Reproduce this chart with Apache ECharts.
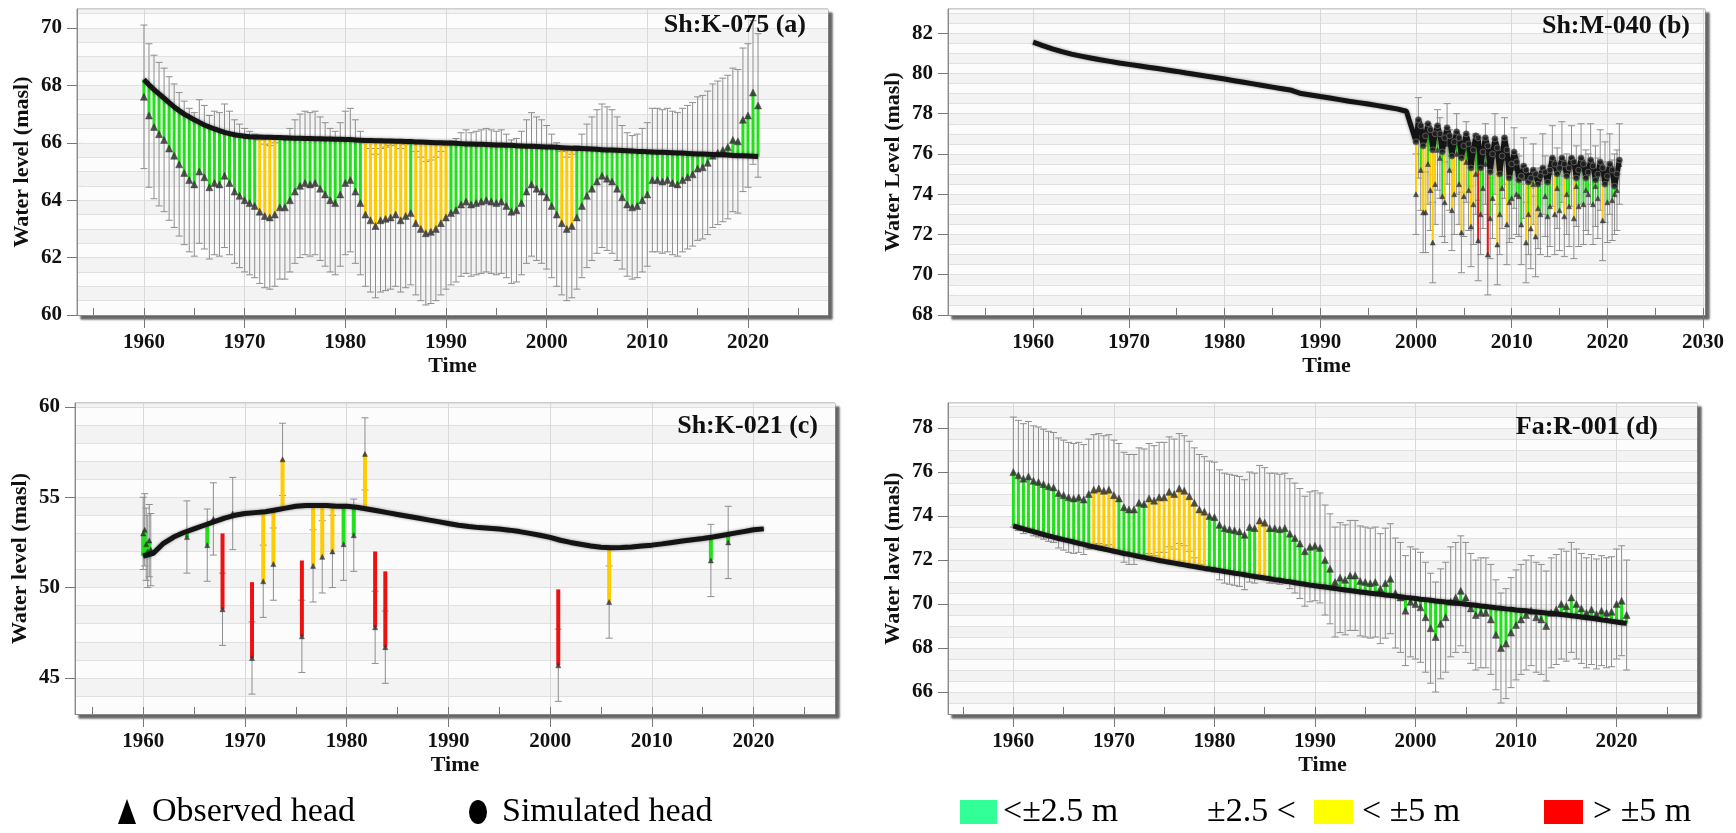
<!DOCTYPE html>
<html>
<head>
<meta charset="utf-8">
<script src="https://cdn.jsdelivr.net/npm/echarts@6/dist/echarts.min.js"></script>
<style>
html, body { margin: 0; padding: 0; background: #fff; }
#chart { width: 1736px; height: 833px; }
</style>
</head>
<body>
<div id="chart"></div>
<script>
// ---- tick labels ----
const xLabels = [1960, 1970, 1980, 1990, 2000, 2010, 2020];
const xLabelsB = [1960, 1970, 1980, 1990, 2000, 2010, 2020, 2030];
const xTicks5 = [1955, 1960, 1965, 1970, 1975, 1980, 1985, 1990, 1995, 2000, 2005, 2010, 2015, 2020, 2025];
const xTicks5B = [1955, 1960, 1965, 1970, 1975, 1980, 1985, 1990, 1995, 2000, 2005, 2010, 2015, 2020, 2025, 2030];
const yTicksA = [60, 62, 64, 66, 68, 70];
const yTicksB = [68, 70, 72, 74, 76, 78, 80, 82];
const yTicksC = [45, 50, 55, 60];
const yTicksD = [66, 68, 70, 72, 74, 76, 78];

// ---- (a) Sh:K-075, half-yearly from 1960 ----
const startA = 1960, stepA = 0.5, errA = 2.5;
const obsA = [
  67.6, 66.95, 66.55, 66.3, 66.1, 65.8, 65.55, 65.25, 64.95, 64.7,
  64.55, 65.0, 64.8, 64.45, 64.6, 64.55, 64.85, 64.6, 64.3, 64.15,
  64.0, 63.9, 63.8, 63.6, 63.45, 63.4, 63.5, 63.75, 63.75, 64.0,
  64.3, 64.5, 64.6, 64.55, 64.6, 64.4, 64.2, 64.0, 63.9, 64.2,
  64.6, 64.7, 64.3, 63.9, 63.5, 63.3, 63.1, 63.3, 63.35, 63.4,
  63.5, 63.3, 63.45, 63.55, 63.2, 63.0, 62.85, 62.9, 63.0, 63.2,
  63.4, 63.55, 63.65, 63.85, 63.95, 63.85, 63.9, 63.95, 64.0, 63.95,
  63.9, 63.95, 63.8, 63.6, 63.65, 63.9, 64.3, 64.55, 64.4, 64.3,
  64.1, 63.8, 63.5, 63.2, 63.0, 63.1, 63.4, 63.8, 64.15, 64.4,
  64.65, 64.85, 64.75, 64.65, 64.4, 64.1, 63.85, 63.75, 63.8, 64.0,
  64.2, 64.7, 64.7, 64.65, 64.7, 64.6, 64.55, 64.7, 64.8, 64.9,
  65.1, 65.15, 65.3, 65.55, 65.65, 65.75, 65.85, 66.1, 66.05, 66.8,
  66.95, 67.75, 67.3
];
const simA = [
  68.20, 68.02, 67.85, 67.70, 67.55, 67.40, 67.25, 67.12, 67.00, 66.90,
  66.80, 66.71, 66.62, 66.55, 66.48, 66.42, 66.36, 66.32, 66.28, 66.25,
  66.23, 66.21, 66.20, 66.20, 66.19, 66.19, 66.18, 66.18, 66.17, 66.17,
  66.16, 66.16, 66.15, 66.15, 66.14, 66.14, 66.13, 66.13, 66.12, 66.12,
  66.11, 66.11, 66.10, 66.09, 66.08, 66.08, 66.07, 66.07, 66.06, 66.06,
  66.05, 66.05, 66.04, 66.04, 66.03, 66.03, 66.02, 66.01, 66.00, 66.00,
  65.99, 65.99, 65.98, 65.97, 65.96, 65.96, 65.95, 65.95, 65.94, 65.93,
  65.92, 65.92, 65.91, 65.91, 65.90, 65.89, 65.88, 65.88, 65.87, 65.86,
  65.85, 65.85, 65.84, 65.83, 65.82, 65.81, 65.80, 65.80, 65.79, 65.78,
  65.77, 65.76, 65.75, 65.75, 65.74, 65.73, 65.72, 65.71, 65.70, 65.70,
  65.69, 65.68, 65.67, 65.67, 65.66, 65.65, 65.64, 65.64, 65.63, 65.62,
  65.61, 65.61, 65.60, 65.59, 65.58, 65.58, 65.57, 65.56, 65.55, 65.55,
  65.54, 65.53, 65.52
];

// ---- (b) Sh:M-040: yearly simulation 1960-1999, quarterly from 2000 ----
const startB1 = 1960, stepB1 = 1;
const simB1 = [
  81.55, 81.38, 81.22, 81.08, 80.96, 80.86, 80.77, 80.68, 80.60, 80.52,
  80.45, 80.38, 80.31, 80.24, 80.17, 80.10, 80.02, 79.95, 79.87, 79.80,
  79.72, 79.64, 79.56, 79.48, 79.40, 79.32, 79.24, 79.16, 79.00, 78.93,
  78.85, 78.78, 78.70, 78.62, 78.55, 78.48, 78.40, 78.32, 78.24, 78.12
];
const startB2 = 2000, stepB2 = 0.25, errB = 2;
const simB2 = [
  76.6, 77.7, 77.4, 76.4,   76.9, 77.5, 77.2, 76.2,   77.0, 77.4, 77.0, 76.1,
  76.8, 77.3, 76.9, 75.9,   76.6, 77.1, 76.8, 75.8,   76.4, 77.0, 76.5, 75.3,
  76.2, 76.9, 76.8, 75.3,   76.1, 76.8, 76.4, 75.1,   76.0, 76.75, 76.3, 75.0,
  75.9, 76.8, 76.2, 74.8,   75.5, 76.1, 75.6, 74.7,   74.9, 75.4, 75.2, 74.6,
  74.8, 75.2, 75.0, 74.5,   74.9, 75.3, 75.1, 74.6,   75.2, 75.8, 75.5, 75.0,
  75.3, 75.8, 75.5, 74.9,   75.3, 75.8, 75.6, 74.8,   75.2, 75.8, 75.5, 74.8,
  75.1, 75.7, 75.4, 74.7,   75.0, 75.6, 75.3, 74.5,   74.9, 75.5, 75.2, 74.4,
  75.0, 75.7
];
const obsB = [
  74.0, 76.8, 75.2, 73.1,   73.1, 75.5, 74.2, 71.6,   74.5, 76.2, 75.8, 73.9,
  73.6, 76.5, 75.2, 73.2,   74.0, 76.0, 74.5, 72.1,   73.9, 75.6, 74.2, 72.4,
  73.5, 75.0, 71.7, 73.0,   74.3, 75.5, 71.0, 72.8,   73.8, 76.0, 71.5, 73.0,
  74.3, 75.8, 72.5, 73.6,   73.8, 75.3, 74.0, 73.9,   72.5, 74.8, 71.6, 73.0,
  72.3, 74.5, 71.9, 73.3,   73.0, 75.0, 73.9, 72.9,   73.4, 75.4, 73.0, 74.3,
  73.2, 75.6, 72.9, 74.0,   73.4, 75.4, 72.8, 74.4,   73.4, 75.5, 73.5, 74.2,
  74.0, 75.5, 73.5, 74.4,   73.8, 75.2, 72.7, 74.6,   73.6, 75.0, 73.7, 74.0,
  74.2, 75.5
];

// ---- (c) Sh:K-021: irregular observations ----
const errC = 2;
const timeC = [1960.0, 1960.15, 1960.3, 1960.45, 1960.6, 1960.75, 1964.3, 1966.3, 1966.9, 1967.8,
  1968.8, 1970.7, 1971.8, 1972.8, 1973.7, 1975.6, 1976.7, 1977.6, 1978.6, 1979.7,
  1980.7, 1981.8, 1982.8, 1983.8, 2000.8, 2005.8, 2015.8, 2017.5];
const obsC = [53.0, 53.2, 52.4, 52.0, 52.6, 52.1, 52.8, 52.35, 53.8, 48.8,
  54.1, 46.1, 50.35, 51.3, 57.1, 47.3, 51.2, 51.7, 52.0, 52.4,
  52.9, 57.4, 47.8, 46.7, 45.7, 49.2, 51.5, 52.5];
const simAtObsC = [51.75, 51.7, 51.65, 51.65, 51.7, 51.8, 53.1, 53.5, 53.6, 53.8,
  54.0, 54.13, 54.2, 54.28, 54.35, 54.53, 54.55, 54.55, 54.53, 54.5,
  54.47, 54.37, 54.27, 54.17, 52.65, 52.2, 52.78, 52.95];
const startC = 1960, stepC = 1;
const simC = [
  51.75, 51.9, 52.45, 52.8, 53.05, 53.25, 53.45, 53.65, 53.85, 54.0,
  54.1, 54.15, 54.2, 54.3, 54.4, 54.5, 54.55, 54.55, 54.55, 54.5,
  54.5, 54.45, 54.35, 54.25, 54.15, 54.05, 53.95, 53.85, 53.75, 53.65,
  53.55, 53.45, 53.38, 53.32, 53.28, 53.24, 53.18, 53.1, 53.0, 52.9,
  52.78, 52.62, 52.5, 52.4, 52.3, 52.23, 52.2, 52.22, 52.25, 52.3,
  52.35, 52.42, 52.5, 52.58, 52.65, 52.72, 52.8, 52.9, 53.0, 53.1,
  53.2, 53.25
];

// ---- (d) Fa:R-001, half-yearly from 1960 ----
const startD = 1960, stepD = 0.5, errD = 2.5;
const obsD = [
  76.0, 75.85, 75.7, 75.8, 75.6, 75.55, 75.45, 75.35, 75.3, 75.05,
  74.95, 74.85, 74.8, 74.85, 74.75, 75.0, 75.2, 75.25, 75.15, 75.2,
  74.95, 74.8, 74.4, 74.3, 74.3, 74.6, 74.55, 74.8, 74.7, 74.85,
  74.85, 75.1, 75.0, 75.25, 75.15, 74.9, 74.6, 74.3, 74.2, 74.0,
  73.95, 73.6, 73.45, 73.4, 73.35, 73.3, 73.15, 73.5, 73.45, 73.8,
  73.7, 73.45, 73.45, 73.4, 73.45, 73.2, 73.0, 72.75, 72.4, 72.6,
  72.65, 72.55, 72.0, 71.6, 71.0, 71.2, 71.1, 71.3, 71.3, 71.05,
  71.0, 70.95, 71.0, 70.7, 70.95, 71.15, 70.5, 70.3, 69.7, 70.1,
  70.0, 69.85, 69.4, 68.9, 68.5, 69.1, 69.4, 70.1, 70.3, 70.6,
  70.3, 69.8, 69.5, 69.6, 69.6, 69.3, 68.6, 68.0, 68.2, 68.7,
  69.05, 69.3, 69.5, 69.7, 69.4, 69.3, 69.0, 69.6, 69.75, 70.0,
  69.9, 70.3, 70.0, 69.8, 69.6, 69.75, 69.55, 69.7, 69.6, 69.65,
  70.0, 70.15, 69.5
];
const simD = [
  73.55, 73.48, 73.42, 73.35, 73.29, 73.22, 73.16, 73.10, 73.04, 72.98,
  72.93, 72.87, 72.82, 72.76, 72.71, 72.65, 72.60, 72.55, 72.50, 72.45,
  72.40, 72.35, 72.30, 72.26, 72.21, 72.16, 72.12, 72.07, 72.03, 71.98,
  71.94, 71.90, 71.86, 71.82, 71.78, 71.74, 71.70, 71.66, 71.62, 71.59,
  71.56, 71.52, 71.48, 71.44, 71.40, 71.37, 71.33, 71.29, 71.25, 71.22,
  71.18, 71.15, 71.11, 71.08, 71.04, 71.01, 70.97, 70.93, 70.90, 70.86,
  70.83, 70.80, 70.77, 70.74, 70.71, 70.67, 70.64, 70.61, 70.58, 70.55,
  70.52, 70.49, 70.47, 70.44, 70.41, 70.39, 70.36, 70.33, 70.30, 70.28,
  70.25, 70.22, 70.20, 70.17, 70.14, 70.12, 70.09, 70.07, 70.04, 70.02,
  69.99, 69.97, 69.94, 69.91, 69.89, 69.86, 69.83, 69.81, 69.78, 69.76,
  69.73, 69.71, 69.69, 69.66, 69.64, 69.62, 69.59, 69.57, 69.55, 69.52,
  69.50, 69.47, 69.44, 69.41, 69.38, 69.35, 69.32, 69.28, 69.25, 69.22,
  69.18, 69.15, 69.12
];

// ---- styling ----
const FONT = '"Liberation Serif", "Times New Roman", serif';
const GREEN = '#22e01a', YELLOW = '#ffcc00', RED = '#ee1111';
const redBarLen = 4.2; // red bars are drawn only this far from the observation

function classColor(d) {
  if (d < 2.5) return GREEN;
  if (d < 5) return YELLOW;
  return RED;
}

function regular(start, step, vals) {
  return vals.map((v, i) => [start + i * step, v]);
}
function pairs(start, step, obs, sim) {
  const n = Math.min(obs.length, sim.length);
  const out = [];
  for (let i = 0; i < n; i++) out.push([start + i * step, obs[i], sim[i]]);
  return out;
}

function whiskerItem(err) {
  return function (params, api) {
    const x = api.value(0), o = api.value(1);
    const top = api.coord([x, o + err]);
    const bot = api.coord([x, o - err]);
    const cw = 3.5;
    const style = { stroke: '#8e8e8e', lineWidth: 1 };
    return {
      type: 'group',
      children: [
        { type: 'line', shape: { x1: top[0], y1: top[1], x2: bot[0], y2: bot[1] }, style: style },
        { type: 'line', shape: { x1: top[0] - cw, y1: top[1], x2: top[0] + cw, y2: top[1] }, style: style },
        { type: 'line', shape: { x1: bot[0] - cw, y1: bot[1], x2: bot[0] + cw, y2: bot[1] }, style: style }
      ]
    };
  };
}

function barItem(width) {
  return function (params, api) {
    const x = api.value(0), o = api.value(1), s = api.value(2);
    const d = Math.abs(o - s);
    let end = s;
    if (d >= 5) end = o + Math.sign(s - o) * redBarLen;
    const p1 = api.coord([x, o]);
    const p2 = api.coord([x, end]);
    return {
      type: 'rect',
      shape: { x: p1[0] - width / 2, y: Math.min(p1[1], p2[1]), width: width, height: Math.abs(p1[1] - p2[1]) },
      style: { fill: classColor(d) }
    };
  };
}

const panels = [
  {
    rect: [77, 9, 751, 306], x: [1953.35, 2027.95], y: [60, 70.66], yStep: 0.5,
    yTicks: yTicksA, xLab: xLabels, xTick: xTicks5, yName: 'Water level (masl)',
    title: 'Sh:K-075 (a)', titleAt: [806, 25],
    pts: pairs(startA, stepA, obsA, simA), simLine: regular(startA, stepA, simA),
    err: errA, barW: 3, triSize: 7
  },
  {
    rect: [948, 9, 757, 306], x: [1951.1, 2030.2], y: [68, 83.2], yStep: 0.5,
    yTicks: yTicksB, xLab: xLabelsB, xTick: xTicks5B, yName: 'Water Level (masl)',
    title: 'Sh:M-040 (b)', titleAt: [1690, 26],
    pts: pairs(startB2, stepB2, obsB, simB2),
    simLine: regular(startB1, stepB1, simB1).concat(regular(startB2, stepB2, simB2)),
    simDots: regular(startB2, stepB2, simB2),
    err: errB, barW: 2, triSize: 5
  },
  {
    rect: [75, 403, 760, 311], x: [1953.3, 2028.0], y: [43, 60.22], yStep: 1,
    yTicks: yTicksC, xLab: xLabels, xTick: xTicks5, yName: 'Water level (masl)',
    title: 'Sh:K-021 (c)', titleAt: [818, 426],
    pts: timeC.map((t, i) => [t, obsC[i], simAtObsC[i]]), simLine: regular(startC, stepC, simC),
    err: errC, barW: 4, triSize: 5
  },
  {
    rect: [948, 403, 749, 311], x: [1953.5, 2028.0], y: [65, 79.14], yStep: 0.5,
    yTicks: yTicksD, xLab: xLabels, xTick: xTicks5, yName: 'Water lavel (masl)',
    title: 'Fa:R-001 (d)', titleAt: [1658, 427],
    pts: pairs(startD, stepD, obsD, simD), simLine: regular(startD, stepD, simD),
    err: errD, barW: 3, triSize: 7
  }
];

const labelFont = { fontFamily: FONT, fontWeight: 'bold', fontSize: 21, color: '#111' };
const nameFont = { fontFamily: FONT, fontWeight: 'bold', fontSize: 22, color: '#111' };
const grids = [], xAxes = [], yAxes = [], series = [], graphics = [];

panels.forEach(function (p, i) {
  grids.push({
    left: p.rect[0], top: p.rect[1], width: p.rect[2], height: p.rect[3],
    show: true, backgroundColor: '#f8f8f8', borderColor: '#9a9a9a', borderWidth: 1,
    shadowColor: 'rgba(0,0,0,0.6)', shadowBlur: 2, shadowOffsetX: 4, shadowOffsetY: 4
  });
  // main x axis: decade labels, outward ticks, vertical grid lines
  xAxes.push({
    gridIndex: i, type: 'value', min: p.x[0], max: p.x[1], position: 'bottom',
    axisLine: { show: true, onZero: false, lineStyle: { color: '#8a8a8a' } },
    axisTick: { show: true, inside: false, length: 13, customValues: p.xLab, lineStyle: { color: '#777' } },
    axisLabel: Object.assign({ customValues: p.xLab, margin: 17, formatter: v => String(v) }, labelFont),
    splitLine: { show: true, lineStyle: { color: '#d9d9d9' } },
    name: 'Time', nameLocation: 'middle', nameGap: 40, nameTextStyle: nameFont
  });
  // minor x axis: 5-year inside ticks
  xAxes.push({
    gridIndex: i, type: 'value', min: p.x[0], max: p.x[1], position: 'bottom',
    axisLine: { show: false, onZero: false },
    axisTick: { show: true, inside: true, length: 7, customValues: p.xTick, lineStyle: { color: '#777' } },
    axisLabel: { show: false }, splitLine: { show: false }
  });
  // main y axis: labels and ticks
  yAxes.push({
    gridIndex: i, type: 'value', min: p.y[0], max: p.y[1],
    axisLine: { show: true, onZero: false, lineStyle: { color: '#8a8a8a' } },
    axisTick: { show: true, inside: false, length: 10, customValues: p.yTicks, lineStyle: { color: '#777' } },
    axisLabel: Object.assign({ customValues: p.yTicks, margin: 15, formatter: v => String(v) }, labelFont),
    splitLine: { show: false },
    name: p.yName, nameLocation: 'middle', nameGap: 44, nameTextStyle: nameFont
  });
  // background y axis: fine horizontal grid and banding
  yAxes.push({
    gridIndex: i, type: 'value', min: p.y[0], max: p.y[1], interval: p.yStep,
    axisLine: { show: false }, axisTick: { show: false }, axisLabel: { show: false },
    splitLine: { show: true, lineStyle: { color: '#e0e0e0' } },
    splitArea: { show: true, areaStyle: { color: ['#fcfcfc', '#f3f3f3'] } }
  });

  const xi = 2 * i, yi = 2 * i;
  series.push({
    type: 'custom', xAxisIndex: xi, yAxisIndex: yi, data: p.pts, encode: { x: 0, y: 1 },
    renderItem: whiskerItem(p.err), z: 2, silent: true, clip: true
  });
  series.push({
    type: 'custom', xAxisIndex: xi, yAxisIndex: yi, data: p.pts, encode: { x: 0, y: 1 },
    renderItem: barItem(p.barW), z: 3, silent: true, clip: true
  });
  series.push({
    type: 'scatter', xAxisIndex: xi, yAxisIndex: yi, data: p.pts.map(d => [d[0], d[1]]),
    symbol: 'triangle', symbolSize: p.triSize,
    itemStyle: { color: '#2b2b2b', borderColor: 'rgba(60,60,60,0.6)', borderWidth: 1 }, z: 4, silent: true
  });
  series.push({
    type: 'line', xAxisIndex: xi, yAxisIndex: yi, data: p.simLine, showSymbol: false,
    lineStyle: { color: '#141414', width: 5, shadowColor: 'rgba(0,0,0,0.45)', shadowBlur: 3 },
    z: 5, silent: true
  });
  if (p.simDots) {
    series.push({
      type: 'scatter', xAxisIndex: xi, yAxisIndex: yi, data: p.simDots,
      symbol: 'circle', symbolSize: 6, itemStyle: { color: '#222', borderColor: '#666', borderWidth: 1 },
      z: 6, silent: true
    });
  }

  graphics.push({
    type: 'text', x: p.titleAt[0], y: p.titleAt[1], z: 10,
    style: {
      text: p.title, font: 'bold 26px ' + FONT, fill: '#111',
      align: 'right', verticalAlign: 'middle', textAlign: 'right', textVerticalAlign: 'middle'
    }
  });
});

// ---- bottom legend ----
const legendFont = '34px ' + FONT;
const legY = 812;
function legText(x, text) {
  return {
    type: 'text', x: x, y: legY,
    style: { text: text, font: legendFont, fill: '#000', align: 'left', verticalAlign: 'middle', textAlign: 'left', textVerticalAlign: 'middle' }
  };
}
graphics.push(
  { type: 'polygon', shape: { points: [[127, 799], [118, 824], [136, 824]] }, style: { fill: '#000' } },
  legText(152, 'Observed head'),
  { type: 'circle', x: 478, y: 812, scaleX: 0.75, shape: { cx: 0, cy: 0, r: 12 }, style: { fill: '#000' } },
  legText(502, 'Simulated head'),
  { type: 'rect', shape: { x: 960, y: 800, width: 37, height: 24 }, style: { fill: '#33ff99' } },
  legText(1003, '<\u00b12.5 m'),
  legText(1207, '\u00b12.5 <'),
  { type: 'rect', shape: { x: 1314, y: 800, width: 39, height: 24 }, style: { fill: '#ffff00' } },
  legText(1362, '< \u00b15 m'),
  { type: 'rect', shape: { x: 1544, y: 800, width: 39, height: 24 }, style: { fill: '#ff0000' } },
  legText(1593, '> \u00b15 m')
);

const chart = echarts.init(document.getElementById('chart'));
chart.setOption({
  animation: false,
  backgroundColor: '#ffffff',
  grid: grids,
  xAxis: xAxes,
  yAxis: yAxes,
  series: series,
  graphic: graphics
});
</script>
</body>
</html>
